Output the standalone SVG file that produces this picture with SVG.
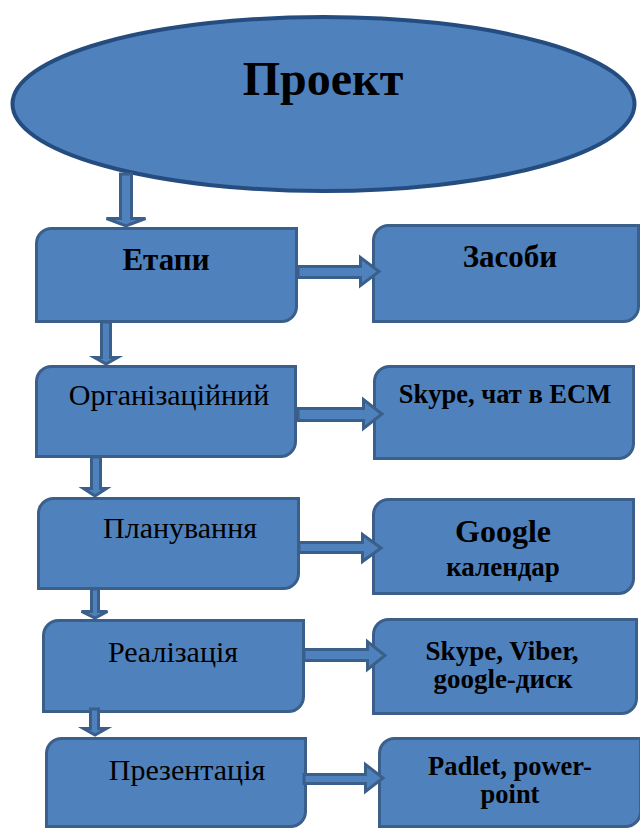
<svg xmlns="http://www.w3.org/2000/svg" width="640" height="830" viewBox="0 0 640 830">
<style>
.box{fill:#4F81BD;stroke:#3A5F8B;stroke-width:3}
.ell{fill:#4F81BD;stroke:#254C7F;stroke-width:4}
.arr{fill:#4F81BD;stroke:#3A5F8B;stroke-width:3;stroke-linejoin:miter}
text{font-family:"Liberation Serif","Times New Roman",serif;fill:#000;text-anchor:middle}
.b{font-weight:bold}
</style>
<rect width="640" height="830" fill="#fff"/>
<g id="nodes">
<g id="project"><ellipse class="ell" cx="323.5" cy="104" rx="311" ry="87"/><text class="b" x="323" y="95" font-size="48">Проект</text></g>
<g id="etapy"><path class="box" d="M51.5,228.5H296.5V306.5A15,15 0 0 1 281.5,321.5H36.5V243.5A15,15 0 0 1 51.5,228.5Z"/><text class="b" x="166" y="270" font-size="31">Етапи</text></g>
<g id="zasoby"><path class="box" d="M388.5,225.5H638.5V306.5A15,15 0 0 1 623.5,321.5H373.5V240.5A15,15 0 0 1 388.5,225.5Z"/><text class="b" x="510" y="267" font-size="31">Засоби</text></g>
<g id="org"><path class="box" d="M51.5,366.5H295.5V441.5A15,15 0 0 1 280.5,456.5H36.5V381.5A15,15 0 0 1 51.5,366.5Z"/><text x="169" y="405" font-size="30">Організаційний</text></g>
<g id="skype"><path class="box" d="M389.5,366.5H633.5V443.5A15,15 0 0 1 618.5,458.5H374.5V381.5A15,15 0 0 1 389.5,366.5Z"/><text class="b" x="505" y="403" font-size="26.5">Skype, чат в ЕСМ</text></g>
<g id="plan"><path class="box" d="M53.5,498.5H298.5V573.5A15,15 0 0 1 283.5,588.5H38.5V513.5A15,15 0 0 1 53.5,498.5Z"/><text x="180" y="538" font-size="30">Планування</text></g>
<g id="google"><path class="box" d="M388.5,499.5H633.5V578.5A15,15 0 0 1 618.5,593.5H373.5V514.5A15,15 0 0 1 388.5,499.5Z"/><text class="b" x="503" y="542" font-size="32">Google</text><text class="b" x="503" y="576" font-size="27">календар</text></g>
<g id="real"><path class="box" d="M58.5,620.5H303.5V696.5A15,15 0 0 1 288.5,711.5H43.5V635.5A15,15 0 0 1 58.5,620.5Z"/><text x="173" y="662" font-size="30">Реалізація</text></g>
<g id="viber"><path class="box" d="M388.5,619.5H636.5V698.5A15,15 0 0 1 621.5,713.5H373.5V634.5A15,15 0 0 1 388.5,619.5Z"/><text class="b" x="502" y="660" font-size="27">Skype, Viber,</text><text class="b" x="503" y="688" font-size="27">google-диск</text></g>
<g id="prez"><path class="box" d="M61.5,738.5H305.5V811.5A15,15 0 0 1 290.5,826.5H46.5V753.5A15,15 0 0 1 61.5,738.5Z"/><text x="187" y="780" font-size="30">Презентація</text></g>
<g id="padlet"><path class="box" d="M394.5,738.5H640.5V811.5A15,15 0 0 1 625.5,826.5H379.5V753.5A15,15 0 0 1 394.5,738.5Z"/><text class="b" x="510" y="775" font-size="26.5">Padlet, power-</text><text class="b" x="510" y="803" font-size="26.5">point</text></g>
</g>
<g id="connectors">
<path class="arr" d="M120.5,174V218.5H106.5L126,226L145.5,218.5H131.5V174Z"/>
<path class="arr" d="M101.5,322V357.5H94.5L106,364L117.5,357.5H110.5V322Z"/>
<path class="arr" d="M91.5,457V488.5H83.5L95,496L106.5,488.5H100.5V457Z"/>
<path class="arr" d="M91.5,589V611.5H81.5L95,618L107.5,611.5H98.5V589Z"/>
<path class="arr" d="M90.5,709V728.5H83.5L95,735L106.5,728.5H98.5V709Z"/>
<path class="arr" d="M298,266.5H360.5V257.5L379,271.5L360.5,285.5V277.5H298Z"/>
<path class="arr" d="M298,408.5H363.5V399.5L382,414L363.5,428.5V420.5H298Z"/>
<path class="arr" d="M299,542.5H362.5V534.5L381,548L362.5,561.5V552.5H299Z"/>
<path class="arr" d="M304,649.5H367.5V641.5L385,655.5L367.5,669.5V660.5H304Z"/>
<path class="arr" d="M304,774.5H365.5V764.5L383,778L365.5,791.5V783.5H304Z"/>
</g>
</svg>
